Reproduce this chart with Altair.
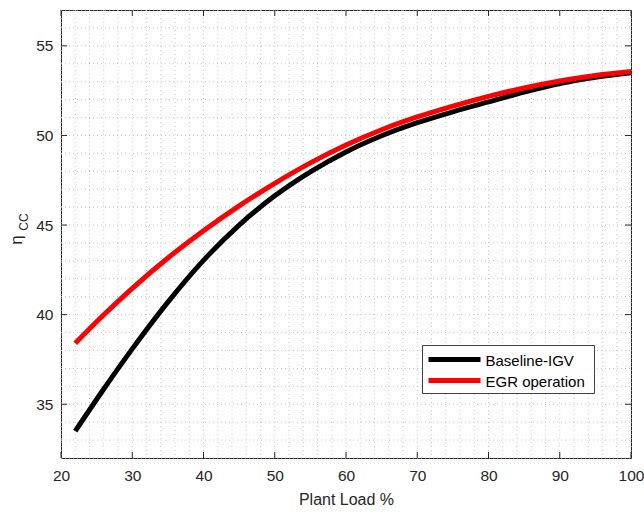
import altair as alt
import pandas as pd

# ---- data ----
load_pct = [22, 26, 30, 35, 40, 45, 50, 55, 60, 65, 70, 75, 80, 85, 90, 95, 100]
baseline_igv = [33.5, 35.85, 38.09, 40.70, 43.03, 45.0, 46.63, 47.97, 49.08, 49.98,
                50.71, 51.32, 51.87, 52.42, 52.9, 53.25, 53.5]
egr_operation = [38.4, 39.99, 41.47, 43.16, 44.68, 46.07, 47.33, 48.47, 49.47, 50.32,
                 51.03, 51.64, 52.18, 52.65, 53.04, 53.35, 53.57]
series_names = ["Baseline-IGV", "EGR operation"]
series_colors = ["#000000", "#ff0000"]

x_major = [20, 30, 40, 50, 60, 70, 80, 90, 100]
y_major = [35, 40, 45, 50, 55]
x_grid = list(range(20, 101, 2))
y_grid = list(range(32, 58, 1))

X_DOMAIN = [20, 100]
Y_DOMAIN = [32, 57]
W, H = 570, 448
FONT = "Liberation Sans"
AX = "#262626"

xs = alt.Scale(domain=X_DOMAIN, nice=False, zero=False)
ys = alt.Scale(domain=Y_DOMAIN, nice=False, zero=False)

df_b = pd.DataFrame({"x": load_pct, "y": baseline_igv})
df_r = pd.DataFrame({"x": load_pct, "y": egr_operation})
gx = pd.DataFrame({"v": x_grid})
gy = pd.DataFrame({"v": y_grid})
tx = pd.DataFrame({"v": x_major})
ty = pd.DataFrame({"v": y_major})
one = pd.DataFrame({"k": [0]})

grid_style = dict(color="#c8c8c8", strokeWidth=1, strokeDash=[1, 3])

grid_x = alt.Chart(gx).mark_rule(**grid_style).encode(
    x=alt.X("v:Q", scale=xs), y=alt.value(0), y2=alt.value(H))
grid_y = alt.Chart(gy).mark_rule(**grid_style).encode(
    y=alt.Y("v:Q", scale=ys), x=alt.value(0), x2=alt.value(W))

# axes carrying labels
axis_chart = alt.Chart(tx).mark_point(opacity=0).encode(
    x=alt.X("v:Q", scale=xs,
            axis=alt.Axis(values=x_major, title="Plant Load %", grid=False, ticks=False,
                          domain=False, labelFlush=False, labelFontSize=15.5, labelFont=FONT,
                          labelColor=AX, labelPadding=10, titleFont=FONT, titleFontSize=16,
                          titleFontWeight="normal", titleColor=AX, titlePadding=8)),
    y=alt.Y("v:Q", scale=ys,
            axis=alt.Axis(values=y_major, title=None, grid=False, ticks=False,
                          domain=False, labelFlush=False, labelFontSize=15.5, labelFont=FONT,
                          labelColor=AX, labelPadding=8)),
)

tick_style = dict(color=AX, strokeWidth=1)
tick_bottom = alt.Chart(tx).mark_rule(**tick_style).encode(
    x=alt.X("v:Q", scale=xs), y=alt.value(H), y2=alt.value(H - 6))
tick_top = alt.Chart(tx).mark_rule(**tick_style).encode(
    x=alt.X("v:Q", scale=xs), y=alt.value(0), y2=alt.value(6))
tick_left = alt.Chart(ty).mark_rule(**tick_style).encode(
    y=alt.Y("v:Q", scale=ys), x=alt.value(0), x2=alt.value(6))
tick_right = alt.Chart(ty).mark_rule(**tick_style).encode(
    y=alt.Y("v:Q", scale=ys), x=alt.value(W), x2=alt.value(W - 6))

line_b = alt.Chart(df_b).mark_line(color=series_colors[0], strokeWidth=5,
                                    interpolate="monotone").encode(
    x=alt.X("x:Q", scale=xs), y=alt.Y("y:Q", scale=ys))
line_r = alt.Chart(df_r).mark_line(color=series_colors[1], strokeWidth=5,
                                    interpolate="monotone").encode(
    x=alt.X("x:Q", scale=xs), y=alt.Y("y:Q", scale=ys))

# legend (drawn manually, MATLAB style)
leg_box = alt.Chart(one).mark_rect(fill="white", stroke="#404040", strokeWidth=1).encode(
    x=alt.value(361.5), x2=alt.value(533.5), y=alt.value(335.5), y2=alt.value(383.5))
leg_layers = []
for i, (name, col) in enumerate(zip(series_names, series_colors)):
    yy = 349.5 + 21 * i
    leg_layers.append(alt.Chart(one).mark_rule(color=col, strokeWidth=5).encode(
        x=alt.value(367.5), x2=alt.value(419.5), y=alt.value(yy)))
    leg_layers.append(alt.Chart(one).mark_text(text=name, align="left", baseline="middle",
                                               font=FONT, fontSize=15, color="#000000").encode(
        x=alt.value(424.5), y=alt.value(yy + 1)))

# y-axis title: eta with subscript CC
ytitle_eta = alt.Chart(one).mark_text(text="η", angle=270, align="center", baseline="middle",
                                      font=FONT, fontSize=17, color=AX).encode(
    x=alt.value(-44), y=alt.value(230))
ytitle_cc = alt.Chart(one).mark_text(text="CC", angle=270, align="center", baseline="middle",
                                     font=FONT, fontSize=12, color=AX).encode(
    x=alt.value(-37), y=alt.value(212))

chart = alt.layer(
    grid_x, grid_y, axis_chart, line_b, line_r,
    tick_bottom, tick_top, tick_left, tick_right,
    leg_box, *leg_layers, ytitle_eta, ytitle_cc,
).properties(
    width=W, height=H,
    autosize=alt.AutoSizeParams(type="none"),
    padding={"left": 61, "top": 10, "right": 13, "bottom": 57},
    background="white",
).configure_view(
    stroke=AX, strokeWidth=1
)

chart.save("out.html", embed_options={"renderer": "svg", "actions": False})
